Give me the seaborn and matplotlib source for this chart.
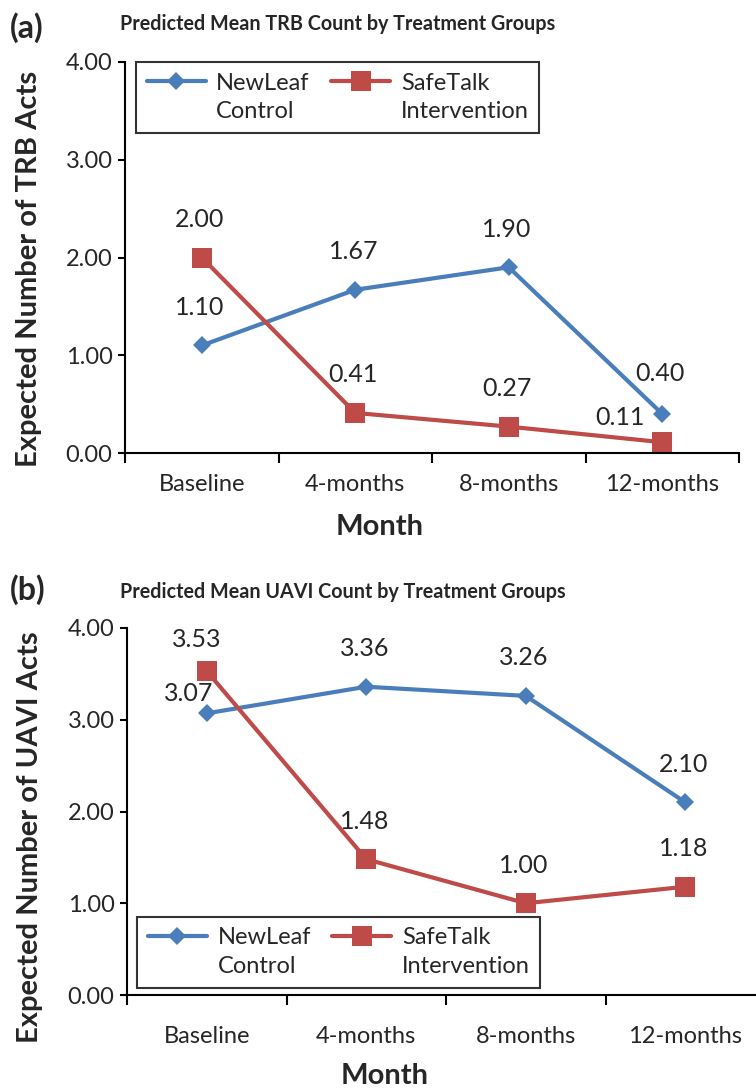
import numpy as np
import pandas as pd
from matplotlib import pyplot as plt
import seaborn as sns

sns.set_style("ticks")
plt.rcParams['font.family'] = ['Lato', 'DejaVu Sans']

# data
months = ["Baseline", "4-months", "8-months", "12-months"]
groups = ["NewLeaf", "SafeTalk"]
legend_labels = ["NewLeaf\nControl", "SafeTalk\nIntervention"]

trb_newleaf = [1.10, 1.67, 1.90, 0.40]
trb_safetalk = [2.00, 0.41, 0.27, 0.11]
uavi_newleaf = [3.07, 3.36, 3.26, 2.10]
uavi_safetalk = [3.53, 1.48, 1.00, 1.18]

yticks = [0, 1, 2, 3, 4]

palette = {"NewLeaf": "#4a7ebb", "SafeTalk": "#be4b48"}
markers = {"NewLeaf": "D", "SafeTalk": "s"}
msize = {"NewLeaf": 9, "SafeTalk": 15}


def make_df(newleaf, safetalk):
    return pd.DataFrame({
        "Month": months * 2,
        "Group": ["NewLeaf"] * 4 + ["SafeTalk"] * 4,
        "Count": list(newleaf) + list(safetalk),
    })


def draw_panel(ax, df, offsets, xpad):
    sns.lineplot(data=df, x="Month", y="Count", hue="Group", style="Group",
                 markers=markers, dashes=False, palette=palette,
                 linewidth=3, markeredgewidth=0, legend=False, ax=ax)
    for line, g in zip(ax.lines, groups):
        line.set_markersize(msize[g])
        line.set_clip_on(False)

    # value labels above points
    for g in groups:
        sub = df[df.Group == g]
        for i, v in enumerate(sub.Count):
            dx, dy = offsets.get((g, i), (-2, 38))
            ax.annotate(f"{v:.2f}", xy=(i, v), xytext=(dx, dy),
                        textcoords="offset pixels", ha="center", va="center",
                        fontsize=18, color="#262626")

    ax.set_xlim(-0.5, 3.5)
    ax.set_ylim(0, 4)
    ax.set_yticks(yticks)
    ax.set_yticklabels([f"{t:.2f}" for t in yticks])
    ax.set_xticks([-0.5, 0.5, 1.5, 2.5, 3.5])
    ax.set_xticklabels([""] * 5)
    ax.set_xticks(range(4), minor=True)
    ax.set_xticklabels(months, minor=True)
    ax.tick_params(axis="x", which="major", length=7, width=1.5, color="black")
    ax.tick_params(axis="x", which="minor", length=0, pad=xpad, labelsize=17, labelcolor="#262626")
    ax.tick_params(axis="y", length=5, width=1.5, color="black", pad=4,
                   labelsize=17, labelcolor="#262626")
    sns.despine(ax=ax)
    for s in ["left", "bottom"]:
        ax.spines[s].set_linewidth(1.5)
        ax.spines[s].set_color("black")


def add_legend(ax, **kw):
    leg = ax.legend(ax.lines[:2], legend_labels, ncol=2, fontsize=17,
                    frameon=True, fancybox=False, edgecolor="black",
                    handlelength=2.5, handletextpad=0.45, columnspacing=0.9,
                    borderaxespad=0, borderpad=0.45, labelspacing=0.2, **kw)
    leg.get_frame().set_linewidth(1.5)
    for t in leg.get_texts():
        t.set_color("#262626")
        t.set_linespacing(1.45)
    # put the handle on the first text line like the original
    for ln in leg.get_lines():
        ln.set_ydata(np.asarray(ln.get_ydata()) + 12)
    return leg


fig = plt.figure(figsize=(7.56, 10.92), dpi=100)
W, H = 756, 1092

# (a) TRB
ax1 = fig.add_axes([125 / W, 1 - 453 / H, 614 / W, 391 / H])
df1 = make_df(trb_newleaf, trb_safetalk)
draw_panel(ax1, df1, {("SafeTalk", 3): (-42, 25), ("NewLeaf", 3): (-2, 40)}, xpad=15)
add_legend(ax1, loc="upper left", bbox_to_anchor=(0.018, 1.0))
ax1.set_ylabel("Expected Number of TRB Acts", fontsize=21, fontweight="bold")
ax1.yaxis.set_label_coords(-0.135, 0.47)
ax1.set_xlabel("Month", fontsize=21, fontweight="bold")
ax1.xaxis.set_label_coords(0.415, -0.155)
fig.text(10 / W, 1 - 28 / H, "(a)", fontsize=23, fontweight="bold", va="center")
fig.text(120 / W, 1 - 24 / H, "Predicted Mean TRB Count by Treatment Groups",
         fontsize=14.2, fontweight="bold", va="center")

# (b) UAVI
ax2 = fig.add_axes([127 / W, 1 - 995 / H, 638 / W, 367 / H])
df2 = make_df(uavi_newleaf, uavi_safetalk)
draw_panel(ax2, df2, {("SafeTalk", 0): (-10, 32), ("NewLeaf", 0): (-18, 20)}, xpad=22)
add_legend(ax2, loc="lower left", bbox_to_anchor=(0.016, 0.02))
ax2.set_ylabel("Expected Number of UAVI Acts", fontsize=21, fontweight="bold")
ax2.yaxis.set_label_coords(-0.131, 0.43)
ax2.set_xlabel("Month", fontsize=21, fontweight="bold")
ax2.xaxis.set_label_coords(0.404, -0.185)
fig.text(10 / W, 1 - 590 / H, "(b)", fontsize=23, fontweight="bold", va="center")
fig.text(120 / W, 1 - 592 / H, "Predicted Mean UAVI Count by Treatment Groups",
         fontsize=14.2, fontweight="bold", va="center")

fig.savefig("out.png", dpi=100)
